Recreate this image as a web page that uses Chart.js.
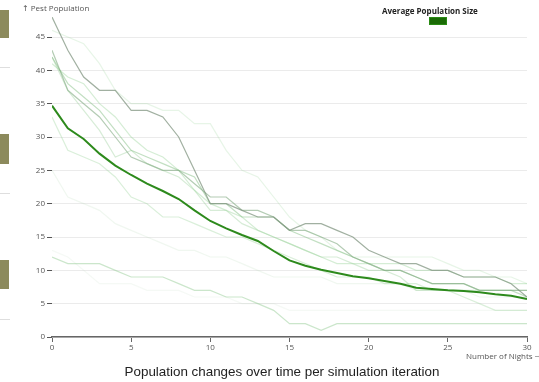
<!DOCTYPE html>
<html>
<head>
<meta charset="utf-8">
<script src="https://cdn.jsdelivr.net/npm/chart.js@4.4.1/dist/chart.umd.min.js"></script>
<style>
  html, body { margin: 0; padding: 0; background: #fff; }
  #wrap { position: relative; width: 539px; height: 382px; overflow: hidden; font-family: "Open Sans", "DejaVu Sans", sans-serif; }
  #c { position: absolute; left: 0; top: 0; }
  .side { position: absolute; left: 0; width: 9px; background: #8c8a5c; }
  .sideline { position: absolute; left: 0; width: 10px; height: 1px; background: #dedede; }
  #ytitle { position: absolute; left: 22px; top: 2px; font-size: 8px; color: #555; white-space: nowrap; }
  #xtitle { position: absolute; left: 466px; top: 350px; font-size: 8px; color: #555; white-space: nowrap; }
  #legtext { position: absolute; left: 382px; top: 5px; font-size: 8px; font-weight: bold; color: #222; white-space: nowrap; }
  #legbox { position: absolute; left: 429px; top: 17px; width: 16px; height: 6px; background: #1b6b06; border: 1px solid #2a8a14; }
  #title { position: absolute; left: 0; width: 564px; top: 364px; text-align: center; font-family: "Liberation Sans", Arial, sans-serif; font-size: 13.4px; color: #222; white-space: nowrap; }
</style>
</head>
<body>
<div id="wrap">
  <canvas id="c" width="539" height="382"></canvas>
  <div class="side" style="top:10px;height:28px"></div>
  <div class="sideline" style="top:67px"></div>
  <div class="side" style="top:134px;height:30px"></div>
  <div class="sideline" style="top:193px"></div>
  <div class="side" style="top:260px;height:29px"></div>
  <div class="sideline" style="top:319px"></div>
  <div id="ytitle">↑ Pest Population</div>
  <div id="xtitle">Number of Nights →</div>
  <div id="legtext">Average Population Size</div>
  <div id="legbox"></div>
  <div id="title">Population changes over time per simulation iteration</div>
</div>
<script>
const nights = Array.from({length: 31}, (_, i) => i);
const yTicks = [0, 5, 10, 15, 20, 25, 30, 35, 40, 45];

const sim1 = [48,43,39,37,37,34,34,33,30,25,20,20,19,18,18,16,17,17,16,15,13,12,11,11,10,10,9,9,9,8,6];
const sim2 = [43,37,35,33,30,27,26,25,25,23,21,21,19,19,18,16,16,15,14,12,11,10,10,9,8,8,8,7,7,7,7];
const sim3 = [42,38,36,34,31,28,27,26,25,24,20,20,18,18,18,16,15,14,13,12,11,10,10,9,8,8,8,7,7,7,6];
const sim4 = [41,39,38,35,33,30,28,27,25,22,20,19,18,16,15,14,13,12,11,11,11,11,11,10,10,10,9,9,9,8,8];
const sim5 = [42,37,34,31,27,28,26,25,24,22,19,19,17,16,15,14,13,12,12,11,10,10,9,7,7,7,7,7,7,7,7];
const sim6 = [46,45,44,41,37,35,35,34,34,32,32,28,25,24,21,18,16,15,13,12,12,12,12,12,12,11,10,10,9,9,8];
const sim7 = [33,28,27,26,24,21,20,18,18,17,16,15,15,14,13,12,11,10,9,9,9,8,8,8,7,7,6,5,4,4,4];
const sim8 = [25,21,20,19,17,16,15,14,13,13,12,12,11,10,9,9,9,9,8,8,8,8,8,7,7,7,7,6,6,6,6];
const sim9 = [12,11,11,11,10,9,9,9,8,7,7,6,6,5,4,2,2,1,2,2,2,2,2,2,2,2,2,2,2,2,2];
const sim10 = [13,12,10,8,8,8,7,7,7,6,6,6,5,5,5,4,4,4,4,4,4,4,4,4,4,4,4,4,4,4,4];
const avgPopulation = [34.7,31.3,29.7,27.5,25.7,24.3,23.0,21.9,20.7,19.0,17.4,16.3,15.3,14.4,12.9,11.5,10.7,10.1,9.6,9.1,8.8,8.4,8.0,7.4,7.2,7.0,6.9,6.7,6.4,6.2,5.7];

const sims = [sim1, sim2, sim3, sim4, sim5, sim6, sim7, sim8, sim9, sim10];
const simColors = [
  'rgba(130,150,130,0.75)',
  'rgba(130,170,130,0.6)',
  'rgba(120,185,120,0.45)',
  'rgba(150,210,150,0.4)',
  'rgba(140,200,140,0.35)',
  'rgba(160,215,160,0.25)',
  'rgba(150,210,150,0.35)',
  'rgba(170,210,170,0.18)',
  'rgba(140,200,140,0.45)',
  'rgba(180,210,180,0.13)'
];

const datasets = [{
  label: 'Average Population Size',
  data: avgPopulation,
  borderColor: '#2d8a1c',
  borderWidth: 2,
  pointRadius: 0,
  tension: 0,
  order: 0
}];
sims.forEach((s, i) => datasets.push({
  label: 'Simulation ' + (i + 1),
  data: s,
  borderColor: simColors[i],
  borderWidth: 1.2,
  pointRadius: 0,
  tension: 0,
  order: 1
}));

new Chart(document.getElementById('c'), {
  type: 'line',
  data: { labels: nights, datasets },
  options: {
    responsive: false,
    animation: false,
    layout: { padding: { left: 0, right: 12, top: 17, bottom: 0 } },
    plugins: { legend: { display: false }, tooltip: { enabled: false }, title: { display: false } },
    scales: {
      x: {
        type: 'linear',
        min: 0, max: 30,
        afterFit: s => { s.height = 45; },
        border: { display: true, color: '#666', width: 1.5 },
        grid: { drawOnChartArea: false, drawTicks: true, tickLength: 5, tickColor: '#666' },
        ticks: { stepSize: 5, color: '#555', font: { size: 8, family: 'Open Sans' }, padding: 1, maxRotation: 0 }
      },
      y: {
        min: 0, max: 48,
        afterFit: s => { s.width = 52; },
        afterBuildTicks: s => { s.ticks = yTicks.map(v => ({ value: v })); },
        border: { display: false },
        grid: { color: '#ebebeb', lineWidth: 1, drawTicks: true, tickLength: 5, tickColor: '#555' },
        ticks: { color: '#555', font: { size: 8, family: 'Open Sans' }, padding: 2 }
      }
    }
  }
});
</script>
</body>
</html>
